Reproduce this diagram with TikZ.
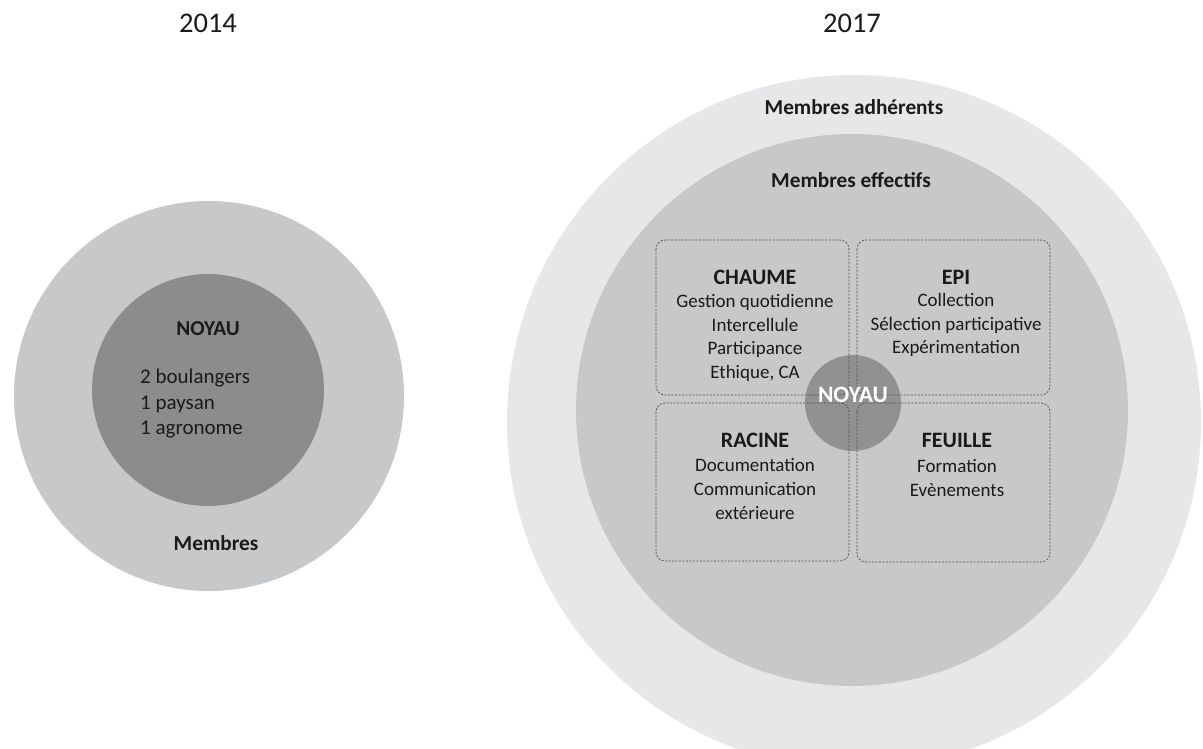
\documentclass[tikz,border=0pt]{standalone}
\usepackage{fontspec}
\setmainfont{Carlito}
\definecolor{outerlight}{HTML}{E6E7E8}
\definecolor{midgray}{HTML}{C7C8CA}
\definecolor{darkgray2}{HTML}{8A8C8E}
\definecolor{noyaugray}{HTML}{8C8D8F}
\definecolor{txt}{HTML}{1A1A1A}
\begin{document}
\begin{tikzpicture}[x=1pt,y=-1pt,
  every node/.style={inner sep=0pt, text=txt},
  body/.style={font=\fontsize{19}{23.8}\selectfont, align=center},
  head/.style={font=\fontsize{22}{25}\selectfont\bfseries},
  ringlabel/.style={font=\fontsize{21.3}{24}\selectfont\bfseries},
  yearlabel/.style={font=\fontsize{28.5}{30}\selectfont},
  cell/.style={draw=black!70, dash pattern=on 2pt off 1.5pt, line width=0.7pt, rounded corners=9pt}]
\useasboundingbox (0,0) rectangle (1203,749);
% ---------- 2014 ----------
\fill[midgray] (209,396) circle (195pt);
\fill[darkgray2] (208,390) circle (116pt);
\node[yearlabel] (y14) at (208,23) {2014};
\node[ringlabel] (noyauL) at (208,329) {NOYAU};
\node[font=\fontsize{21}{25.5}\selectfont, align=left, anchor=west] (listL) at (140,404) {2 boulangers\\1 paysan\\1 agronome};
\node[ringlabel] (membres) at (216,543) {Membres};
% ---------- 2017 ----------
\begin{scope}
\clip (0,0) rectangle (1203,749);
\fill[outerlight] (854,422) circle (347pt);
\end{scope}
\fill[midgray] (852,410) circle (276pt);
\fill[noyaugray, opacity=0.92] (853,403) circle (48pt);
\draw[cell] (656,240) rectangle (849,395);
\draw[cell] (857,240) rectangle (1050,395);
\draw[cell] (656,403) rectangle (849,561);
\draw[cell] (857,403) rectangle (1050,562);
\node[yearlabel] (y17) at (852,23) {2017};
\node[ringlabel] (adh) at (854,107) {Membres adhérents};
\node[ringlabel] (eff) at (851,180) {Membres effectifs};
\node[head] (chaume) at (755,277) {CHAUME};
\node[body] (chaumeL) at (755,338) {Gestion quotidienne\\Intercellule\\Participance\\Ethique, CA};
\node[head] (epi) at (956,277) {EPI};
\node[body] (epiL) at (956,325) {Collection\\Sélection participative\\Expérimentation};
\node[head] (racine) at (755,440) {RACINE};
\node[body] (racineL) at (755,489) {Documentation\\Communication\\extérieure};
\node[head] (feuille) at (957,440) {FEUILLE};
\node[body] (feuilleL) at (957,478) {Formation\\Evènements};
\node[font=\fontsize{23.5}{26}\selectfont\bfseries, text=white] (noyauR) at (853,395) {NOYAU};
\end{tikzpicture}
\end{document}
